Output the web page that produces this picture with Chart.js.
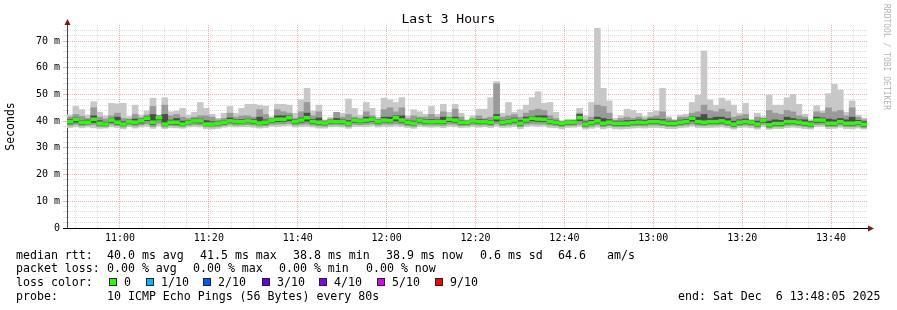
<!DOCTYPE html>
<html>
<head>
<meta charset="utf-8">
<script src="https://cdn.jsdelivr.net/npm/chart.js@4.4.1/dist/chart.umd.min.js"></script>
<style>
  body { margin: 0; background: #fff; overflow: hidden; }
  #wrap { position: relative; width: 897px; height: 310px; font-family: 'DejaVu Sans Mono', monospace; color: #000; }
  #wrap canvas { position: absolute; left: 0; top: 0; }
  .t { position: absolute; white-space: pre; font-size: 11.6px; line-height: 14px; }
  .box { position: absolute; width: 6px; height: 6px; border: 1px solid #222; }
  #title { position: absolute; left: 0; top: 11px; width: 897px; text-align: center; font-size: 13px; line-height: 16px; }
  #mark { position: absolute; left: 882px; top: 4px; writing-mode: vertical-rl; font-size: 8px; color: #b4b4b4; white-space: pre; }
</style>
</head>
<body>
<div id="wrap">
  <canvas id="chart" width="897" height="310"></canvas>
  <div id="title">Last 3 Hours</div>
  <div id="mark">RRDTOOL / TOBI OETIKER</div>

  <span class="t" style="left:16px;top:248px">median rtt:</span>
  <span class="t" style="left:107px;top:248px">40.0 ms avg</span>
  <span class="t" style="left:200px;top:248px">41.5 ms max</span>
  <span class="t" style="left:293px;top:248px">38.8 ms min</span>
  <span class="t" style="left:386px;top:248px">38.9 ms now</span>
  <span class="t" style="left:480px;top:248px">0.6 ms sd</span>
  <span class="t" style="left:558px;top:248px">64.6</span>
  <span class="t" style="left:607px;top:248px">am/s</span>

  <span class="t" style="left:16px;top:261px">packet loss:</span>
  <span class="t" style="left:107px;top:261px">0.00 % avg</span>
  <span class="t" style="left:193px;top:261px">0.00 % max</span>
  <span class="t" style="left:279px;top:261px">0.00 % min</span>
  <span class="t" style="left:366px;top:261px">0.00 % now</span>

  <span class="t" style="left:16px;top:275px">loss color:</span>
  <div id="lossRow"></div>

  <span class="t" style="left:16px;top:289px">probe:</span>
  <span class="t" style="left:107px;top:289px">10 ICMP Echo Pings (56 Bytes) every 80s</span>
  <span class="t" style="left:678px;top:289px">end: Sat Dec  6 13:48:05 2025</span>
</div>
<script>
// 135 bins of 80 s, 10:48:05 .. 13:48:05, values in ms
var binMinutes = 80 / 60;
var firstLabelAt = 11 + 55 / 60; // 11:00 in minutes after start

var timeLabels = ['11:00', '11:20', '11:40', '12:00', '12:20', '12:40', '13:00', '13:20', '13:40'];
var yLabels = ['0', '10 m', '20 m', '30 m', '40 m', '50 m', '60 m', '70 m'];

var lossLabels = ['0', '1/10', '2/10', '3/10', '4/10', '5/10', '9/10'];
var lossColors = ['#26ff00', '#00b8ff', '#0059ff', '#5e00ff', '#7e00ff', '#dd00ff', '#ff0000'];

var medianRtt = [
  39.8,40.7,39.6,39.6,40.7,39.2,38.9,40.4,39.6,38.9,39.8,39.6,40.1,41.1,39.6,41.3,38.9,39.6,39.6,38.9,39.6,40.1,40.1,38.9,38.9,39.2,39.6,
  40.1,39.8,39.8,40.1,39.8,39.3,39.6,40.2,40.7,40.7,41.3,39.8,40.4,41.3,39.8,39.6,39.3,39.8,39.8,39.8,39.2,40.4,40.1,40.4,40.7,39.8,40.4,
  40.2,41.3,40.4,39.6,39.2,40.4,39.8,39.8,39.8,39.8,40.7,40.4,39.6,39.6,40.1,39.8,39.8,39.6,41.3,39.6,39.8,40.4,39.2,40.4,41.1,40.8,40.7,
  39.8,39.6,39.2,39.6,39.6,41.3,38.9,39.4,40.1,39.2,39.6,39.2,39.2,39.2,39.4,39.6,39.4,39.8,39.8,39.6,39.2,39.2,39.6,39.8,41.1,39.8,39.6,
  39.8,39.8,40.1,39.6,38.9,39.6,39.8,39.6,38.9,40.4,38.6,39.1,39.1,39.8,39.8,39.6,39.2,38.9,40.4,40.4,39.2,39.2,39.8,39.2,39.2,39.4,38.8
];
var maxRtt = [
  42.3,45.5,44.3,42.3,47.3,43.3,42.0,46.7,46.5,46.7,41.7,46.0,42.3,43.8,48.6,42.3,48.8,43.5,43.8,44.8,42.3,43.3,47.0,44.8,42.6,41.1,43.0,
  45.5,43.0,44.8,46.3,46.3,46.0,45.6,41.7,46.3,46.3,46.0,43.0,48.0,52.3,43.8,46.0,40.5,41.4,43.3,43.0,48.3,44.8,42.3,47.0,44.8,41.4,48.6,
  48.0,47.0,48.8,42.0,44.3,43.5,42.6,45.5,42.6,46.3,43.3,46.3,43.0,40.5,42.0,44.5,44.5,48.8,54.8,43.0,47.0,43.3,44.3,46.0,48.8,51.0,46.7,
  47.0,43.3,40.2,40.7,40.7,44.8,42.0,47.0,74.8,52.3,47.6,41.1,42.0,44.5,44.0,43.0,41.7,43.3,43.8,52.3,41.7,40.6,42.3,42.6,47.0,49.7,66.3,
  48.0,46.0,48.6,47.6,46.0,43.0,46.7,40.6,43.0,41.7,49.7,46.0,46.0,48.8,50.0,46.3,42.6,40.5,45.8,43.8,50.3,53.8,51.7,43.3,47.6,42.3,41.1
];
var upperRtt = [
  41.5,42.5,41.8,41.0,45.0,41.5,40.8,42.0,43.0,41.0,40.8,42.5,41.2,42.3,45.5,42.0,46.0,42.0,42.5,41.5,41.0,41.5,42.0,42.0,41.5,40.5,41.0,
  43.0,41.5,42.0,42.0,41.5,44.3,42.5,41.0,44.3,43.5,43.0,41.0,43.5,47.0,42.0,43.5,40.2,40.8,43.3,41.5,42.5,41.5,41.0,43.5,42.0,40.8,44.3,
  45.0,43.5,45.0,41.0,42.0,41.5,41.5,42.5,41.5,43.5,41.5,44.5,41.5,40.3,41.0,42.0,41.0,41.5,54.0,41.5,42.0,42.5,41.5,43.0,44.0,44.5,44.0,
  42.0,41.0,39.8,40.3,40.3,43.0,40.5,41.5,46.0,45.5,43.0,40.3,41.0,41.5,41.0,41.5,40.8,41.5,42.0,43.5,41.0,40.3,41.5,41.5,43.0,43.5,46.0,
  44.0,43.5,44.5,43.5,41.5,42.0,42.5,40.3,41.5,41.0,44.0,43.0,42.5,44.0,43.5,42.0,41.5,40.0,43.5,43.0,45.0,43.5,44.0,42.0,45.0,41.5,40.5
];
var darkHi = [
  40.6,41.3,40.3,40.4,42.0,40.2,39.6,41.0,41.5,39.8,40.4,40.8,40.8,41.7,42.5,41.9,42.5,40.4,41.0,40.0,40.3,40.8,40.8,40.2,39.8,39.8,40.2,
  41.2,40.5,40.6,40.8,40.6,41.5,40.5,40.8,42.0,42.0,42.0,40.5,41.2,43.0,40.6,41.2,39.9,40.4,41.0,40.5,40.2,41.0,40.7,41.5,41.3,40.4,41.5,
  41.5,42.0,42.0,40.3,40.0,41.0,40.5,40.6,40.5,41.5,41.3,41.5,40.3,40.0,40.7,40.6,40.5,40.3,42.5,40.3,40.5,41.2,40.2,41.5,41.8,42.0,42.0,
  40.5,40.3,39.7,40.1,40.2,42.5,39.8,40.3,41.5,41.0,40.6,40.0,40.0,40.2,40.3,40.5,40.2,40.8,40.8,40.6,40.0,40.0,40.4,40.6,41.8,41.5,42.5,
  41.0,41.5,41.5,41.0,40.0,40.5,40.8,40.1,40.0,40.9,40.0,40.5,40.3,41.5,41.0,40.5,40.5,39.8,41.5,41.2,40.8,40.5,41.0,40.5,41.5,40.3,39.8
];
var darkLo = [
  39.0,39.6,38.9,39.0,39.5,38.6,38.3,39.5,38.9,38.3,39.2,38.9,39.3,40.2,38.8,40.5,38.4,38.9,38.8,38.3,39.0,39.4,39.3,38.3,38.3,38.6,38.9,
  39.4,39.1,39.2,39.4,39.1,38.7,38.9,39.5,39.8,39.9,40.2,39.1,39.6,40.0,39.1,38.9,38.6,39.1,39.2,39.1,38.6,39.6,39.4,39.6,39.9,39.1,39.7,
  39.5,40.1,39.6,38.9,38.6,39.6,39.1,39.2,39.1,39.1,39.8,39.6,38.9,38.9,39.4,39.1,39.2,38.9,40.0,38.9,39.1,39.6,38.5,39.6,40.1,39.9,39.8,
  39.1,38.9,38.5,38.9,38.9,40.2,38.2,38.7,39.3,38.5,38.9,38.5,38.5,38.5,38.7,38.9,38.7,39.1,39.1,38.9,38.5,38.5,38.9,39.1,40.0,39.0,38.9,
  39.1,39.1,39.3,38.9,38.2,38.9,39.1,38.9,38.2,39.6,37.9,38.4,38.4,39.0,39.1,38.9,38.5,38.2,39.5,39.6,38.5,38.5,39.1,38.5,38.5,38.7,38.1
];
var lowerRtt = [
  38.4,38.8,38.3,38.5,38.7,38.0,37.9,38.8,38.3,37.8,38.6,38.2,38.6,39.0,38.0,39.2,37.8,38.3,38.2,37.9,38.5,38.7,38.6,37.9,37.8,38.0,38.4,
  38.8,38.5,38.6,38.7,38.5,38.1,38.3,38.8,38.9,39.0,39.2,38.5,38.8,38.9,38.5,38.2,38.1,38.6,38.6,38.5,38.0,38.8,38.7,38.8,39.0,38.5,38.9,
  38.8,39.0,38.8,38.3,38.0,38.8,38.5,38.5,38.5,38.4,38.9,38.8,38.3,38.4,38.7,38.5,38.6,38.3,39.0,38.3,38.5,38.8,38.0,38.8,39.0,38.9,38.9,
  38.5,38.3,37.9,38.4,38.4,38.8,37.7,38.1,38.6,37.9,38.3,37.9,37.9,38.0,38.2,38.3,38.2,38.5,38.5,38.3,38.0,38.0,38.3,38.5,38.9,38.4,38.3,
  38.5,38.5,38.7,38.3,37.7,38.3,38.5,38.3,37.7,38.8,37.5,37.9,37.9,38.4,38.5,38.3,38.0,37.7,38.7,38.8,38.0,38.0,38.5,38.0,37.9,38.1,37.6
];
var minRtt = [
  37.6,37.9,37.5,37.8,37.5,37.3,37.4,37.9,37.6,37.1,37.9,37.4,37.8,38.1,37.3,38.2,37.2,37.6,37.5,37.3,37.8,37.9,37.8,37.2,37.0,37.3,37.7,
  38.0,37.8,37.9,37.9,37.7,37.4,37.6,38.1,38.0,38.2,38.4,37.8,37.9,38.0,37.8,37.4,37.4,37.9,37.9,37.8,37.3,38.0,37.9,38.0,38.2,37.8,38.0,
  37.9,38.2,37.9,37.6,37.3,38.0,37.8,37.7,37.8,37.6,38.1,37.9,37.6,37.7,37.9,37.7,37.9,37.6,38.1,37.6,37.7,37.9,37.2,37.9,38.2,38.0,38.1,
  37.6,37.5,37.1,37.6,37.7,37.9,37.0,37.3,37.7,37.1,37.5,37.1,37.0,37.2,37.4,37.5,37.4,37.6,37.6,37.5,37.2,37.2,37.5,37.7,38.1,37.6,37.5,
  37.6,37.7,37.8,37.5,37.0,37.6,37.7,37.5,37.0,38.0,36.9,37.2,37.2,37.6,37.7,37.5,37.2,37.0,37.9,38.0,37.2,37.3,37.7,37.2,37.1,37.4,37.0
];

var RED = 'rgba(235, 90, 90, 0.5)';
var GREY = 'rgba(170, 170, 170, 0.38)';
var FONT = 'DejaVu Sans Mono';

// loss colour legend row
(function () {
  var row = document.getElementById('lossRow');
  var boxX = [109, 146, 203, 262, 319, 377, 435];
  lossLabels.forEach(function (lbl, i) {
    var b = document.createElement('div');
    b.className = 'box';
    b.style.left = boxX[i] + 'px';
    b.style.top = '278px';
    b.style.background = lossColors[i];
    row.appendChild(b);
    var s = document.createElement('span');
    s.className = 't';
    s.style.left = (boxX[i] + 15) + 'px';
    s.style.top = '275px';
    s.textContent = lbl;
    row.appendChild(s);
  });
})();

function band(lo, hi) {
  return lo.map(function (v, i) { return { x: (i + 0.5) * binMinutes, y: [v, hi[i]] }; });
}
function medianBand() {
  return medianRtt.map(function (v, i) { return { x: (i + 0.5) * binMinutes, y: [v - 0.55, v + 0.55] }; });
}
function smoke(label, data, color, order) {
  return {
    label: label, data: data, backgroundColor: color, borderWidth: 0,
    barPercentage: 1, categoryPercentage: 1, grouped: false, order: order
  };
}

var axisArrows = {
  id: 'axisArrows',
  afterDraw: function (chart) {
    var ctx = chart.ctx, a = chart.chartArea;
    var lx = Math.round(a.left) + 0.5, by = Math.round(a.bottom) + 0.5;
    ctx.save();
    ctx.strokeStyle = '#000';
    ctx.lineWidth = 1;
    ctx.beginPath();
    ctx.moveTo(lx, a.top); ctx.lineTo(lx, a.top - 2);
    ctx.moveTo(a.left - 4, by); ctx.lineTo(a.right + 2, by);
    ctx.stroke();
    ctx.fillStyle = '#7f1515';
    ctx.beginPath();
    ctx.moveTo(lx, a.top - 6); ctx.lineTo(lx - 3, a.top); ctx.lineTo(lx + 3, a.top);
    ctx.closePath(); ctx.fill();
    ctx.beginPath();
    ctx.moveTo(a.right + 7, by); ctx.lineTo(a.right + 1, by - 3); ctx.lineTo(a.right + 1, by + 3);
    ctx.closePath(); ctx.fill();
    ctx.restore();
  }
};

new Chart(document.getElementById('chart').getContext('2d'), {
  type: 'bar',
  data: {
    datasets: [
      smoke('median', medianBand(), '#26ff00', 1),
      smoke('dark', band(darkLo, darkHi), '#4c4c4c', 2),
      smoke('mid', band(lowerRtt, upperRtt), '#9a9a9a', 3),
      smoke('light', band(minRtt, maxRtt), '#c8c8c8', 4)
    ]
  },
  options: {
    responsive: false,
    animation: false,
    devicePixelRatio: 1,
    layout: { padding: { left: 0, top: 25, right: 30, bottom: 62 } },
    plugins: { legend: { display: false }, tooltip: { enabled: false } },
    scales: {
      x: {
        type: 'linear', min: 0, max: 180, offset: false,
        afterBuildTicks: function (s) {
          var t = [];
          for (var v = firstLabelAt - 10; v < 180; v += 5) t.push({ value: v });
          s.ticks = t;
        },
        afterFit: function (s) { s.height = 20; },
        grid: {
          offset: false,
          color: function (c) { return (c.index - 2) % 4 === 0 ? RED : GREY; },
          drawTicks: false
        },
        border: { display: true, color: '#000', dash: [1, 1] },
        ticks: {
          autoSkip: false, maxRotation: 0, padding: 4, color: '#000',
          font: { family: FONT, size: 10 },
          callback: function (v, i) { return (i - 2) % 4 === 0 ? timeLabels[(i - 2) / 4] : ''; }
        }
      },
      y: {
        min: 0, max: 76,
        afterBuildTicks: function (s) {
          var t = [];
          for (var v = 0; v <= 74; v += 2) t.push({ value: v });
          s.ticks = t;
        },
        afterFit: function (s) { s.width = 67; },
        grid: {
          color: function (c) { return c.tick && c.tick.value % 10 === 0 ? RED : GREY; },
          tickLength: 4
        },
        border: { display: true, color: '#444', dash: [1, 1] },
        ticks: {
          autoSkip: false, padding: 3, color: '#000',
          font: { family: FONT, size: 10 },
          callback: function (v) { return v % 10 === 0 ? yLabels[v / 10] : ''; }
        },
        title: {
          display: true, text: 'Seconds', color: '#000',
          font: { family: FONT, size: 11.5 },
          padding: { top: 4, bottom: 0 }
        }
      }
    }
  },
  plugins: [axisArrows]
});
</script>
</body>
</html>
